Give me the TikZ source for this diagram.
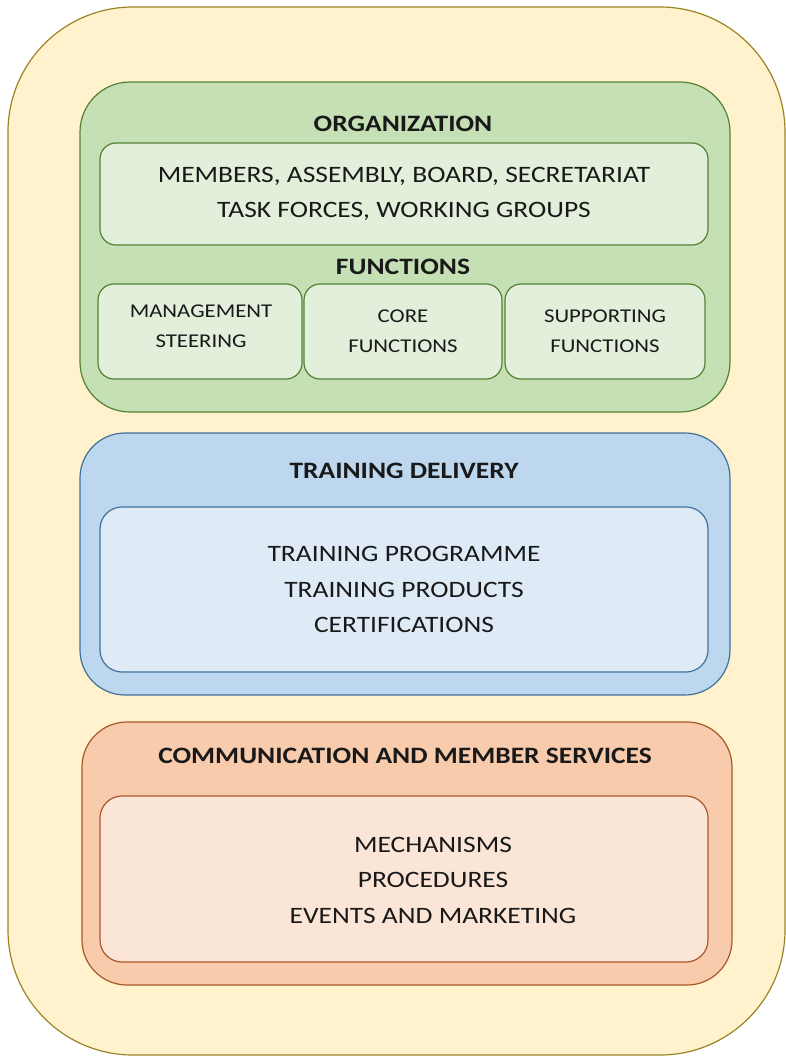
\documentclass[tikz,border=0pt]{standalone}
\usepackage{fontspec}
\setmainfont{Carlito}[FakeStretch=1.17]
\usepackage{tikz}
\usetikzlibrary{positioning}

\definecolor{outerfill}{HTML}{FFF2CC}
\definecolor{outerline}{HTML}{9C8424}
\definecolor{greenfill}{HTML}{C5E0B4}
\definecolor{greenin}{HTML}{E2EFDA}
\definecolor{greenline}{HTML}{548235}
\definecolor{bluefill}{HTML}{BDD7EE}
\definecolor{bluein}{HTML}{DEEBF7}
\definecolor{blueline}{HTML}{41719C}
\definecolor{orangefill}{HTML}{F8CBAD}
\definecolor{orangein}{HTML}{FBE5D6}
\definecolor{orangeline}{HTML}{A9582A}

\begin{document}
\begin{tikzpicture}[x=1pt,y=-1pt,
    panel/.style={draw, line width=1.2pt, rectangle, inner sep=0pt},
    title/.style={font=\bfseries\fontsize{23.5}{28}\selectfont, text=black!90},
    body/.style={font=\fontsize{23.5}{35.5}\selectfont, align=center, text=black!90},
    small/.style={font=\fontsize{19.5}{30}\selectfont, align=center, text=black!90}]
  \useasboundingbox (0,0) rectangle (786,1057);

  % outer frame
  \node[panel, draw=outerline, fill=outerfill, rounded corners=125pt,
        minimum width=777pt, minimum height=1048pt] (frame) at (396.5,531) {};

  % organization
  \node[panel, draw=greenline, fill=greenfill, rounded corners=50pt,
        minimum width=650pt, minimum height=330pt] (org) at (405,247) {};
  \node[title] (orgtitle) at (403,124) {ORGANIZATION};
  \node[panel, draw=greenline, fill=greenin, rounded corners=16pt,
        minimum width=608pt, minimum height=102pt, body] (members) at (404,194)
        {MEMBERS, ASSEMBLY, BOARD, SECRETARIAT\\TASK FORCES, WORKING GROUPS};
  \node[title] (functitle) at (403,267) {FUNCTIONS};
  \node[panel, draw=greenline, fill=greenin, rounded corners=16pt,
        minimum width=204pt, minimum height=95pt] (mgmt) at (200,331.5) {};
  \node[small] (mgmttext) at (201,326) {MANAGEMENT\\STEERING};
  \node[panel, draw=greenline, fill=greenin, rounded corners=16pt,
        minimum width=198pt, minimum height=95pt, small] (core) at (403,331.5)
        {CORE\\FUNCTIONS};
  \node[panel, draw=greenline, fill=greenin, rounded corners=16pt,
        minimum width=200pt, minimum height=95pt, small] (supp) at (605,331.5)
        {SUPPORTING\\FUNCTIONS};

  % training delivery
  \node[panel, draw=blueline, fill=bluefill, rounded corners=45pt,
        minimum width=650pt, minimum height=262pt] (train) at (405,564) {};
  \node[title] (traintitle) at (404,471) {TRAINING DELIVERY};
  \node[panel, draw=blueline, fill=bluein, rounded corners=22pt,
        minimum width=608pt, minimum height=165pt, body] (trainbox) at (404,589.5)
        {TRAINING PROGRAMME\\TRAINING PRODUCTS\\CERTIFICATIONS};

  % communication
  \node[panel, draw=orangeline, fill=orangefill, rounded corners=45pt,
        minimum width=650pt, minimum height=263pt] (comm) at (407,853.5) {};
  \node[title] (commtitle) at (405,756) {COMMUNICATION AND MEMBER SERVICES};
  \node[panel, draw=orangeline, fill=orangein, rounded corners=22pt,
        minimum width=608pt, minimum height=166pt] (commbox) at (404,879) {};
  \node[body] (commtext) at (433,880)
        {MECHANISMS\\PROCEDURES\\EVENTS AND MARKETING};
\end{tikzpicture}
\end{document}
